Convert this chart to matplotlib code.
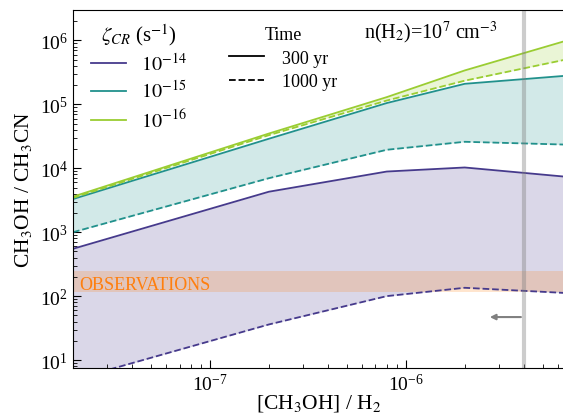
import numpy as np
import matplotlib.pyplot as plt
from matplotlib.lines import Line2D

plt.rcParams['font.family'] = ['Liberation Serif', 'DejaVu Serif']
plt.rcParams['mathtext.fontset'] = 'stix'

# CH3OH abundance grid
x = [2e-8, 2e-7, 8e-7, 2e-6, 6.5e-6]

# CH3OH / CH3CN, 300 yr (solid) and 1000 yr (dashed)
zeta14_300 = [550, 4300, 8900, 10300, 7400]
zeta14_1000 = [4.9, 36, 100, 135, 112]
zeta15_300 = [3300, 29000, 105000, 210000, 280000]
zeta15_1000 = [1000, 7000, 19500, 26000, 23500]
zeta16_300 = [3600, 35000, 130000, 340000, 980000]
zeta16_1000 = [3450, 33000, 115000, 235000, 500000]

labels = [r'$10^{-14}$', r'$10^{-15}$', r'$10^{-16}$']
colors = ['#463a8c', '#21918c', '#9acd32']

obs_lo, obs_hi = 115, 250
x_limit = 4e-6

px = 1/100
fig = plt.figure(figsize=(563*px, 414*px), dpi=100)
ax = fig.add_axes([73/563, 45/414, 492/563, 358/414])

series = [(zeta14_300, zeta14_1000), (zeta15_300, zeta15_1000), (zeta16_300, zeta16_1000)]
for (s, d), c in zip(series, colors):
    ax.fill_between(x, d, s, color=c, alpha=0.2, lw=0)
    ax.plot(x, s, color=c, lw=1.3)
    ax.plot(x, d, color=c, lw=1.3, ls='--')

ax.axhspan(obs_lo, obs_hi, color='#ff7f0e', alpha=0.2, lw=0)
ax.text(2.15e-8, 150, 'OBSERVATIONS', color='#ff7f0e', fontsize=13, va='center')

ax.axvline(x_limit, color='gray', alpha=0.4, lw=3)
ax.annotate('', xy=(2.6e-6, 47), xytext=(x_limit, 47),
            arrowprops=dict(arrowstyle='-|>', color='gray', lw=1.5, mutation_scale=8))

ax.set_xscale('log')
ax.set_yscale('log')
ax.set_xlim(2e-8, 6.5e-6)
ax.set_ylim(7.5, 3e6)
ax.tick_params(which='both', direction='in', labelsize=14)
ax.tick_params(which='major', length=6)
ax.tick_params(which='minor', length=3)
ax.set_xlabel('[CH$_3$OH] / H$_2$', fontsize=15.5, labelpad=-1.5)
ax.set_ylabel('CH$_3$OH / CH$_3$CN', fontsize=15.5)

h1 = [Line2D([], [], color=c, lw=1.3) for c in colors]
leg1 = ax.legend(h1, labels, title=r'$\zeta_{CR}$ (s$^{-1}$)', loc='upper left',
                 bbox_to_anchor=(0.0, 1.02), frameon=False, fontsize=14.5, title_fontsize=15,
                 handlelength=1.75, labelspacing=0.3, handletextpad=0.75)
ax.add_artist(leg1)
h2 = [Line2D([], [], color='k', lw=1.3), Line2D([], [], color='k', lw=1.3, ls='--')]
ax.legend(h2, ['300 yr', '1000 yr'], title='Time', loc='upper left',
          bbox_to_anchor=(0.285, 1.0), frameon=False, fontsize=13, title_fontsize=13,
          handlelength=1.9, labelspacing=0.35, handletextpad=1.0)

ax.text(0.592, 0.938, 'n(H$_2$)=10$^7$ cm$^{-3}$', transform=ax.transAxes, fontsize=14.5,
        va='center')

fig.savefig('out.png', dpi=100)
